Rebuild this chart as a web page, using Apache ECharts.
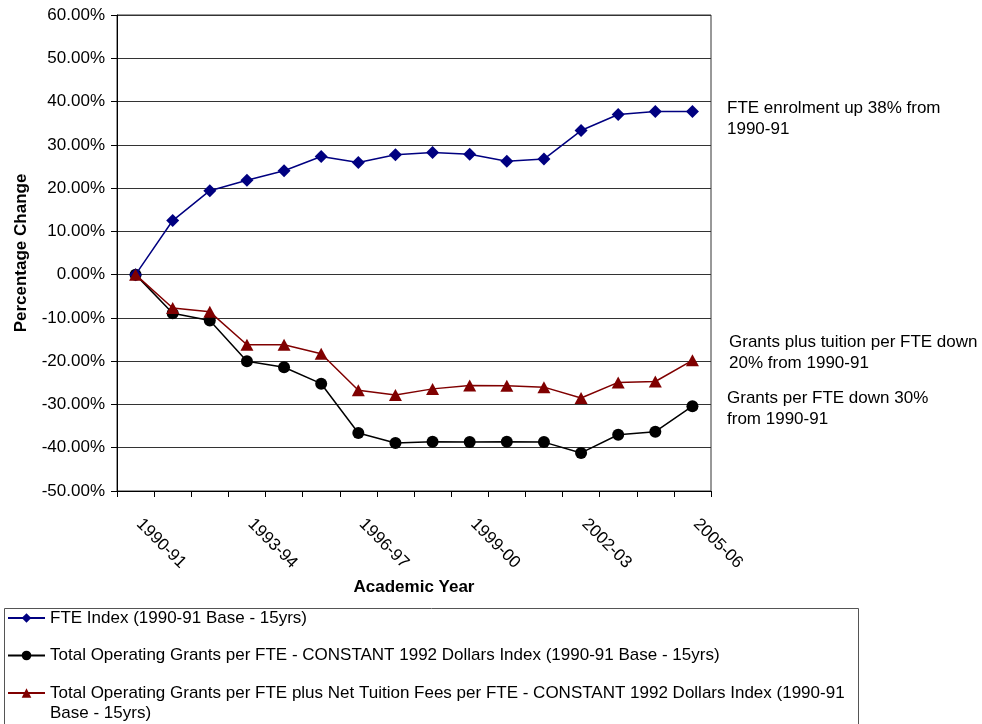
<!DOCTYPE html>
<html>
<head>
<meta charset="utf-8">
<script src="https://cdn.jsdelivr.net/npm/echarts@6/dist/echarts.min.js"></script>
<style>html,body{margin:0;padding:0;background:#fff}#c{width:982px;height:724px}</style>
</head>
<body>
<div id="c"></div>
<script>
const categories = ['1990-91','1991-92','1992-93','1993-94','1994-95','1995-96','1996-97','1997-98','1998-99','1999-00','2000-01','2001-02','2002-03','2003-04','2004-05','2005-06'];
const fteIndex = [0, 12.5, 19.4, 21.8, 24.0, 27.3, 25.9, 27.7, 28.2, 27.8, 26.2, 26.7, 33.3, 37.0, 37.7, 37.7];
const grantsPerFte = [0, -8.9, -10.6, -20.0, -21.4, -25.2, -36.6, -38.9, -38.6, -38.7, -38.6, -38.7, -41.2, -37.0, -36.3, -30.4];
const grantsTuitionPerFte = [0, -7.7, -8.6, -16.2, -16.2, -18.3, -26.7, -27.8, -26.4, -25.6, -25.7, -26.0, -28.5, -24.9, -24.7, -19.8];
const seriesNames = [
  'FTE Index (1990-91 Base - 15yrs)',
  'Total Operating Grants per FTE - CONSTANT 1992 Dollars Index (1990-91 Base - 15yrs)',
  'Total Operating Grants per FTE plus Net Tuition Fees per FTE - CONSTANT 1992 Dollars Index (1990-91 Base - 15yrs)'
];
const yTicks = {min: -50, max: 60, interval: 10};
const annotations = [
  'FTE enrolment up 38% from\n1990-91',
  'Grants plus tuition per FTE down\n20% from 1990-91',
  'Grants per FTE down 30%\nfrom 1990-91'
];

const FONT = '"Liberation Sans", Arial, sans-serif';
const chart = echarts.init(document.getElementById('c'), null, {renderer: 'canvas'});
const triPath = 'path://M0,10 L5,0 L10,10 Z';
chart.setOption({
  animation: false,
  backgroundColor: '#fff',
  textStyle: {fontFamily: FONT},
  grid: {left: 117, right: 271, top: 15, bottom: 233, show: true, borderColor: '#333', borderWidth: 1},
  xAxis: {
    type: 'category',
    data: categories,
    boundaryGap: true,
    name: 'Academic Year',
    nameLocation: 'middle',
    nameGap: 87,
    nameTextStyle: {fontFamily: FONT, fontSize: 17, fontWeight: 'bold', color: '#000'},
    axisLine: {onZero: false, lineStyle: {color: '#000', width: 1}},
    axisTick: {show: true, interval: 0, length: 6, lineStyle: {color: '#000'}},
    axisLabel: {interval: 2, rotate: -45, margin: 27, padding: [0, 0, 0, 5], fontFamily: FONT, fontSize: 17, color: '#000'},
    splitLine: {show: false}
  },
  yAxis: {
    type: 'value',
    min: yTicks.min, max: yTicks.max, interval: yTicks.interval,
    name: 'Percentage Change',
    nameLocation: 'middle',
    nameGap: 87,
    nameTextStyle: {fontFamily: FONT, fontSize: 17, fontWeight: 'bold', color: '#000'},
    axisLine: {show: true, lineStyle: {color: '#000', width: 1}},
    axisTick: {show: true, length: 6, lineStyle: {color: '#000'}},
    axisLabel: {margin: 12, fontFamily: FONT, fontSize: 17, color: '#000', formatter: v => v.toFixed(2) + '%'},
    splitLine: {show: true, lineStyle: {color: '#333', width: 1}}
  },
  legend: {
    orient: 'vertical',
    left: 7, top: 588, height: 300,
    padding: 0,
    itemGap: -22.5,
    itemWidth: 37, itemHeight: 12,
    textStyle: {fontFamily: FONT, fontSize: 17, color: '#000', lineHeight: 60},
    formatter: n => n === seriesNames[2] ? '\n' + n.replace('(1990-91 Base', '(1990-91\nBase') : n,
    data: [
      {name: seriesNames[0]},
      {name: seriesNames[1]},
      {name: seriesNames[2], textStyle: {lineHeight: 20}}
    ]
  },
  graphic: [
    {type: 'rect', left: 2, top: 606, shape: {x: 0, y: 0, width: 854, height: 150}, style: {fill: 'none', stroke: '#555', lineWidth: 1}, z: -1},
    {type: 'text', left: 727, top: 98, style: {text: annotations[0], fontFamily: FONT, fontSize: 17, lineHeight: 21, fill: '#000'}},
    {type: 'text', left: 729, top: 332, style: {text: annotations[1], fontFamily: FONT, fontSize: 17, lineHeight: 21, fill: '#000'}},
    {type: 'text', left: 727, top: 388, style: {text: annotations[2], fontFamily: FONT, fontSize: 17, lineHeight: 21, fill: '#000'}}
  ],
  series: [
    {name: seriesNames[0], type: 'line', data: fteIndex, symbol: 'diamond', symbolSize: 13,
     lineStyle: {color: '#000080', width: 1.5}, itemStyle: {color: '#000080'}, z: 4},
    {name: seriesNames[1], type: 'line', data: grantsPerFte, symbol: 'circle', symbolSize: 12,
     lineStyle: {color: '#000', width: 1.5}, itemStyle: {color: '#000'}, z: 3},
    {name: seriesNames[2], type: 'line', data: grantsTuitionPerFte, symbol: triPath, symbolSize: [13, 12],
     lineStyle: {color: '#800000', width: 1.5}, itemStyle: {color: '#800000'}, z: 5}
  ]
});
</script>
</body>
</html>
